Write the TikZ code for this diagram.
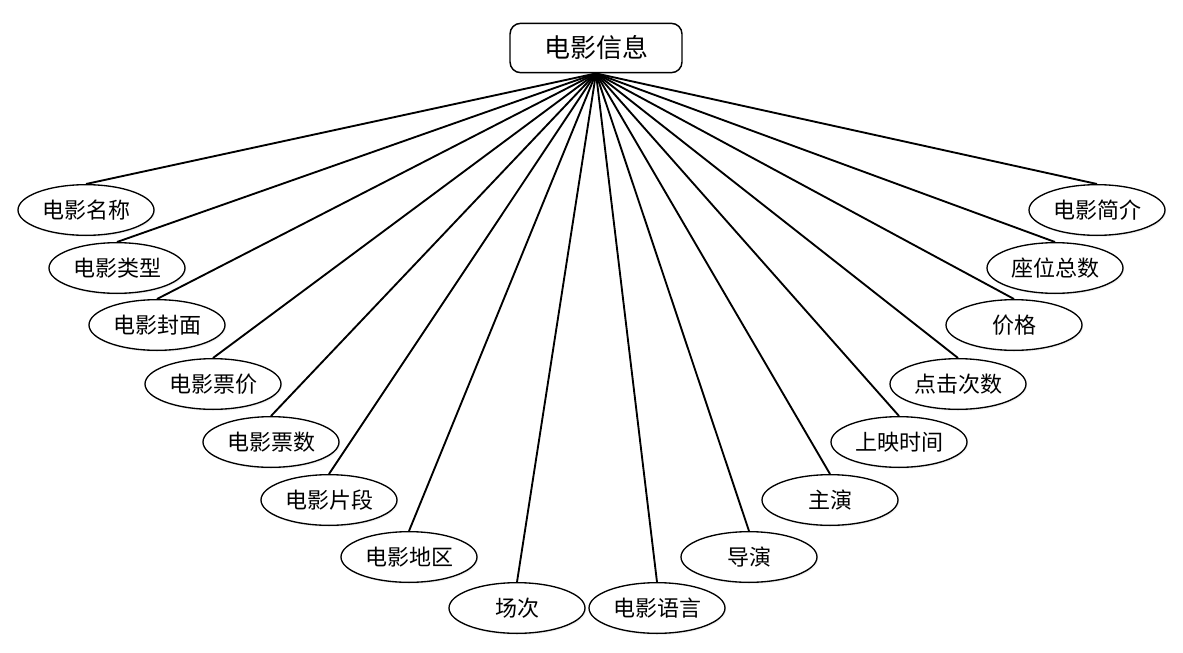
\documentclass[tikz,border=0pt]{standalone}
\usepackage{fontspec}
\newfontfamily\cjk{Noto Sans CJK SC}
\usetikzlibrary{shapes.geometric,shadows}

\begin{document}
\begin{tikzpicture}[x=0.75pt, y=-0.75pt, font=\cjk\fontsize{16.5}{19}\selectfont,
    entity/.style={draw, line width=1.1pt, rounded corners=8pt, fill=white, minimum width=129pt, minimum height=37pt, inner sep=0pt,
        font=\cjk\fontsize{19.5}{22}\selectfont},
    attr/.style={draw, ellipse, line width=1pt, fill=white, minimum width=102pt, minimum height=38pt, inner sep=0pt,
        drop shadow={opacity=0.12, shadow xshift=0.8pt, shadow yshift=-1.2pt}},
    link/.style={line width=1.4pt}]
  \useasboundingbox (0,0) rectangle (1183,653);
  % ---------------- entity ----------------
  \node[entity] (info) at (596,48) {电影信息};
  % ---------------- attributes, left half ----------------
  \node[attr] (name)    at (86,210)  {电影名称};
  \node[attr] (type)    at (117,268) {电影类型};
  \node[attr] (cover)   at (157,325) {电影封面};
  \node[attr] (price)   at (213,384) {电影票价};
  \node[attr] (tickets) at (271,442) {电影票数};
  \node[attr] (clip)    at (329,500) {电影片段};
  \node[attr] (region)  at (409,557) {电影地区};
  \node[attr] (session) at (517,608) {场次};
  % ---------------- attributes, right half ----------------
  \node[attr] (lang)     at (657,608)  {电影语言};
  \node[attr] (director) at (749,557)  {导演};
  \node[attr] (star)     at (830,500)  {主演};
  \node[attr] (release)  at (899,442)  {上映时间};
  \node[attr] (clicks)   at (958,384)  {点击次数};
  \node[attr] (cost)     at (1014,325) {价格};
  \node[attr] (seats)    at (1055,268) {座位总数};
  \node[attr] (intro)    at (1097,210) {电影简介};
  % links from the entity to every attribute
  \foreach \a in {name,type,cover,price,tickets,clip,region,session,lang,director,star,release,clicks,cost,seats,intro}
    \draw[link] (info.south) -- (\a.north);
\end{tikzpicture}
\end{document}
